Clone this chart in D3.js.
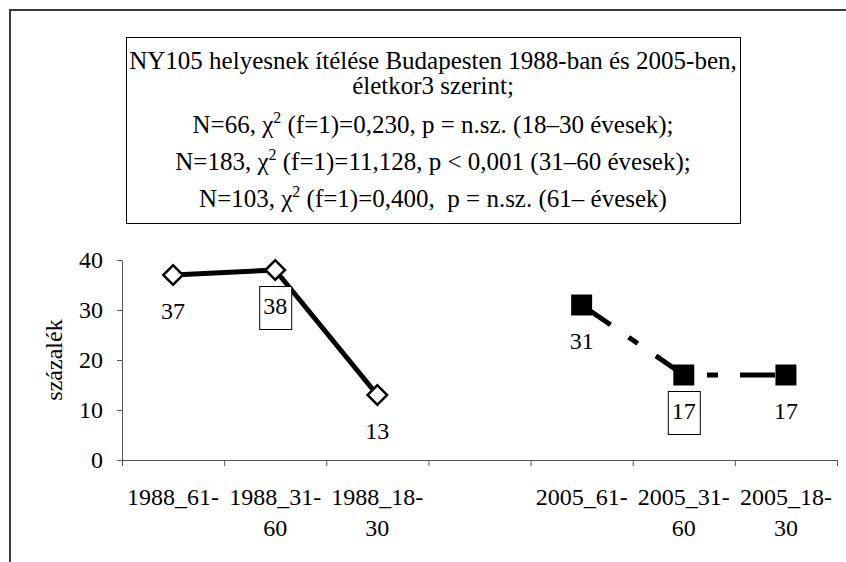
<!DOCTYPE html>
<html>
<head>
<meta charset="utf-8">
<script src="https://cdn.jsdelivr.net/npm/d3@7"></script>
<style>
  html, body { margin: 0; padding: 0; background: #fff; }
</style>
</head>
<body>
<div id="chart"></div>
<script>
// adatok
const categories = ["1988_61-", "1988_31-60", "1988_18-30", "", "2005_61-", "2005_31-60", "2005_18-30"];
const values1988 = [37, 38, 13, null, null, null, null];
const values2005 = [null, null, null, null, 31, 17, 17];
const boxedCategories = ["1988_31-60", "2005_31-60"];
const yTicks = [0, 10, 20, 30, 40];
const yLabel = "százalék";
const titleLines = [
    "NY105 helyesnek ítélése Budapesten 1988-ban és 2005-ben,",
    "életkor3 szerint;",
    "N=66, χ^2 (f=1)=0,230, p = n.sz. (18–30 évesek);",
    "N=183, χ^2 (f=1)=11,128, p < 0,001 (31–60 évesek);",
    "N=103, χ^2 (f=1)=0,400,  p = n.sz. (61– évesek)"
];

const width = 846, height = 562;
const fontSize = 24;
const titleFontSize = 25;
const serif = 'Liberation Serif';

const svg = d3.select('#chart')
    .append('svg')
    .attr('width', width)
    .attr('height', height);

// keret (csak bal és felső él látszik)
svg.append('path')
    .attr('d', `M10,${height}V10H${width}`)
    .attr('fill', 'none')
    .attr('stroke', '#3a3a3a')
    .attr('stroke-width', 2);

// cím doboz
const titleBox = {x: 126, y: 37, w: 614, h: 186};
svg.append('rect')
    .attr('x', titleBox.x + 0.5)
    .attr('y', titleBox.y + 0.5)
    .attr('width', titleBox.w)
    .attr('height', titleBox.h)
    .attr('fill', '#fff')
    .attr('stroke', '#000')
    .attr('stroke-width', 1);

const titleBaselines = [69, 94, 133, 170, 207];
const title = svg.append('g').attr('class', 'title');
titleLines.forEach((line, i) => {
    const t = title.append('text')
        .attr('x', titleBox.x + titleBox.w / 2)
        .attr('y', titleBaselines[i])
        .attr('text-anchor', 'middle')
        .style('font-family', serif)
        .style('font-size', titleFontSize + 'px')
        .style('white-space', 'pre');
    const parts = line.split('^2');
    parts.forEach((p, j) => {
        if (j > 0) {
            t.append('tspan').attr('dy', -10).style('font-size', '16px').text('2');
            t.append('tspan').attr('dy', 10).text(p);
        } else {
            t.append('tspan').text(p);
        }
    });
});

// skálák
const x = d3.scaleBand()
    .domain(categories)
    .range([122, 837]);
const y = d3.scaleLinear()
    .domain([0, 40])
    .range([460, 260]);
const cx = (c) => x(c) + x.bandwidth() / 2;

// x tengely: osztások a kategóriahatárokon
const xEdge = d3.scaleLinear().domain([0, categories.length]).range(x.range());
const xAxis = svg.append('g')
    .attr('transform', `translate(0,${y(0)})`)
    .call(d3.axisBottom(xEdge)
        .ticks(categories.length)
        .tickSize(6)
        .tickSizeOuter(0)
        .tickFormat(''));
xAxis.selectAll('path, line').attr('stroke', '#555');

// x feliratok, két sorba tördelve a kötőjel után
const xLabels = svg.append('g').attr('class', 'x-labels');
categories.forEach((c) => {
    if (!c) return;
    const m = c.match(/^(.*?-)(.*)$/);
    const lines = m && m[2] ? [m[1], m[2]] : [c];
    const t = xLabels.append('text')
        .attr('text-anchor', 'middle')
        .style('font-family', serif)
        .style('font-size', fontSize + 'px');
    lines.forEach((l, i) => {
        t.append('tspan')
            .attr('x', cx(c))
            .attr('y', 505 + i * 31)
            .text(l);
    });
});

// y tengely
const yAxis = svg.append('g')
    .attr('transform', `translate(${x.range()[0]},0)`)
    .call(d3.axisLeft(y)
        .tickValues(yTicks)
        .tickSize(5)
        .tickSizeOuter(0)
        .tickPadding(14));
yAxis.attr('font-family', null).attr('font-size', null);
yAxis.selectAll('path, line').attr('stroke', '#555');
yAxis.selectAll('text')
    .style('font-family', serif)
    .style('font-size', fontSize + 'px')
    .attr('fill', '#000');

svg.append('text')
    .attr('transform', 'translate(62,360) rotate(-90)')
    .attr('text-anchor', 'middle')
    .style('font-family', serif)
    .style('font-size', fontSize + 'px')
    .text(yLabel);

// vonalak
const line = d3.line()
    .defined(d => d != null)
    .x((d, i) => cx(categories[i]))
    .y(d => y(d));

svg.append('path')
    .datum(values1988)
    .attr('d', line)
    .attr('fill', 'none')
    .attr('stroke', '#000')
    .attr('stroke-width', 5)
    .attr('stroke-linejoin', 'round');

svg.append('path')
    .datum(values2005)
    .attr('d', line)
    .attr('fill', 'none')
    .attr('stroke', '#000')
    .attr('stroke-width', 5)
    .attr('stroke-dasharray', '35,22,11,22');

// jelölők
const pts1988 = values1988.map((v, i) => ({c: categories[i], v})).filter(d => d.v != null);
const pts2005 = values2005.map((v, i) => ({c: categories[i], v})).filter(d => d.v != null);

svg.append('g').selectAll('path')
    .data(pts1988)
    .enter().append('path')
    .attr('d', d3.symbol(d3.symbolSquare, 190))
    .attr('transform', d => `translate(${cx(d.c)},${y(d.v)}) rotate(45)`)
    .attr('fill', '#fff')
    .attr('stroke', '#000')
    .attr('stroke-width', 2.5);

svg.append('g').selectAll('path')
    .data(pts2005)
    .enter().append('path')
    .attr('d', d3.symbol(d3.symbolSquare, 440))
    .attr('transform', d => `translate(${cx(d.c)},${y(d.v)})`)
    .attr('fill', '#000');

// adatfeliratok
const labels = svg.append('g').attr('class', 'data-labels');
pts1988.concat(pts2005).forEach(d => {
    const base = y(d.v) + 44;
    if (boxedCategories.includes(d.c)) {
        labels.append('rect')
            .attr('x', cx(d.c) - 16 + 0.5)
            .attr('y', base - 28 + 0.5)
            .attr('width', 32)
            .attr('height', 43)
            .attr('fill', '#fff')
            .attr('stroke', '#000')
            .attr('stroke-width', 1);
    }
    labels.append('text')
        .attr('x', cx(d.c))
        .attr('y', base)
        .attr('text-anchor', 'middle')
        .style('font-family', serif)
        .style('font-size', fontSize + 'px')
        .text(d.v);
});
</script>
</body>
</html>
